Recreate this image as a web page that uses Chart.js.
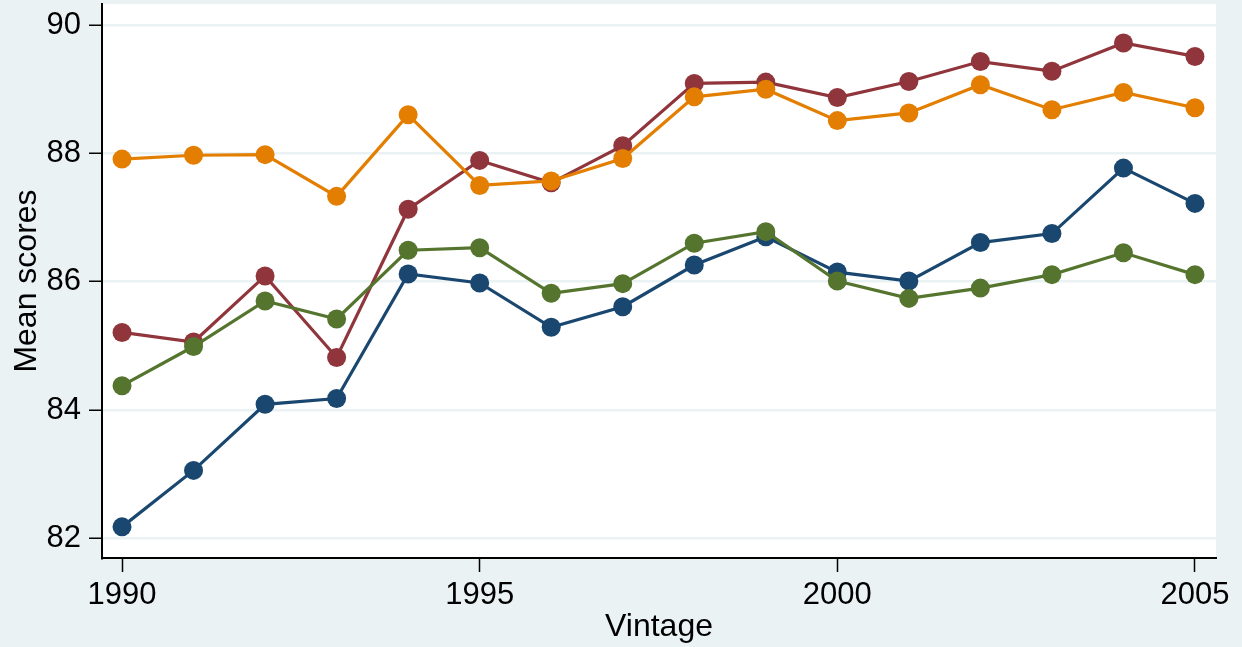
<!DOCTYPE html>
<html>
<head>
<meta charset="utf-8">
<script src="https://cdn.jsdelivr.net/npm/chart.js@4/dist/chart.umd.min.js"></script>
<style>
  html, body { margin: 0; padding: 0; background: #EAF2F3; }
  canvas { display: block; }
</style>
</head>
<body>
<canvas id="c" width="1242" height="647"></canvas>
<script>
// ---- data ----
const years = [1990,1991,1992,1993,1994,1995,1996,1997,1998,1999,2000,2001,2002,2003,2004,2005];
const navySeries   = [82.18,83.06,84.09,84.18,86.12,85.98,85.29,85.61,86.26,86.70,86.15,86.01,86.61,86.75,87.77,87.22];
const maroonSeries = [85.21,85.06,86.09,84.82,87.13,87.89,87.54,88.12,89.09,89.11,88.87,89.12,89.43,89.28,89.72,89.51];
const greenSeries  = [84.38,84.99,85.70,85.42,86.49,86.53,85.82,85.97,86.60,86.78,86.01,85.74,85.90,86.11,86.45,86.11];
const orangeSeries = [87.91,87.97,87.98,87.33,88.60,87.50,87.57,87.92,88.88,89.00,88.51,88.63,89.07,88.68,88.95,88.71];
const yTickValues = [82, 84, 86, 88, 90];
const xTickValues = [1990, 1995, 2000, 2005];
const xTitle = 'Vintage';
const yTitle = 'Mean scores';

const BG = '#EAF2F3';
const FONT = '"Liberation Sans", Arial, Helvetica, sans-serif';

function pts(vals) { return years.map((x, i) => ({ x: x, y: vals[i] })); }
function ds(label, vals, color, order) {
  return {
    label: label, data: pts(vals), order: order,
    borderColor: color, backgroundColor: color,
    pointBackgroundColor: color, pointBorderColor: color,
    borderWidth: 3.2, pointRadius: 9.5, pointBorderWidth: 0, pointHoverRadius: 9.5,
    tension: 0, fill: false
  };
}

const bgPlugin = {
  id: 'bg',
  beforeDraw(chart) {
    const { ctx, chartArea: a } = chart;
    ctx.save();
    ctx.fillStyle = BG;
    ctx.fillRect(0, 0, chart.width, chart.height);
    ctx.fillStyle = '#ffffff';
    ctx.fillRect(a.left, a.top, a.right - a.left, a.bottom - a.top);
    ctx.restore();
  }
};

new Chart(document.getElementById('c'), {
  type: 'line',
  data: {
    datasets: [
      ds('Group 1', navySeries,   '#1a476f', 3),
      ds('Group 2', maroonSeries, '#90353b', 2),
      ds('Group 3', greenSeries,  '#55752f', 1),
      ds('Group 4', orangeSeries, '#e37e00', 0)
    ]
  },
  plugins: [bgPlugin],
  options: {
    responsive: false,
    animation: false,
    events: [],
    layout: { autoPadding: false, padding: { left: 0, top: 4, right: 26, bottom: 0 } },
    plugins: { legend: { display: false }, tooltip: { enabled: false } },
    scales: {
      x: {
        type: 'linear',
        min: 1989.72, max: 2005.294,
        afterFit(s) { s.height = 89; s.paddingLeft = 0; s.paddingRight = 0; s.paddingTop = 0; s.paddingBottom = 0; },
        afterBuildTicks(s) { s.ticks = xTickValues.map(v => ({ value: v })); },
        ticks: {
          color: '#000', font: { family: FONT, size: 31 }, padding: 5,
          maxRotation: 0, autoSkip: false,
          callback: v => String(v)
        },
        grid: {
          drawOnChartArea: false, drawTicks: true, tickLength: 14,
          tickColor: '#000', tickWidth: 1.5
        },
        border: { display: true, color: '#000', width: 2 },
        title: {
          display: true, text: xTitle, color: '#000',
          font: { family: FONT, size: 32 }, padding: { top: 0, bottom: 1 }
        }
      },
      y: {
        type: 'linear',
        min: 81.695, max: 90.327,
        afterFit(s) { s.width = 102; s.paddingLeft = 0; s.paddingRight = 0; s.paddingTop = 0; s.paddingBottom = 0; },
        afterBuildTicks(s) { s.ticks = yTickValues.map(v => ({ value: v })); },
        ticks: {
          color: '#000', font: { family: FONT, size: 31 }, padding: 8,
          callback: v => String(v)
        },
        grid: {
          drawOnChartArea: true, drawTicks: true, tickLength: 13,
          color: BG, lineWidth: 2.5, tickColor: '#000', tickWidth: 1.5
        },
        border: { display: true, color: '#000', width: 2 },
        title: {
          display: true, text: yTitle, color: '#000',
          font: { family: FONT, size: 32 }, padding: { top: 8, bottom: 0 }
        }
      }
    }
  }
});
</script>
</body>
</html>
